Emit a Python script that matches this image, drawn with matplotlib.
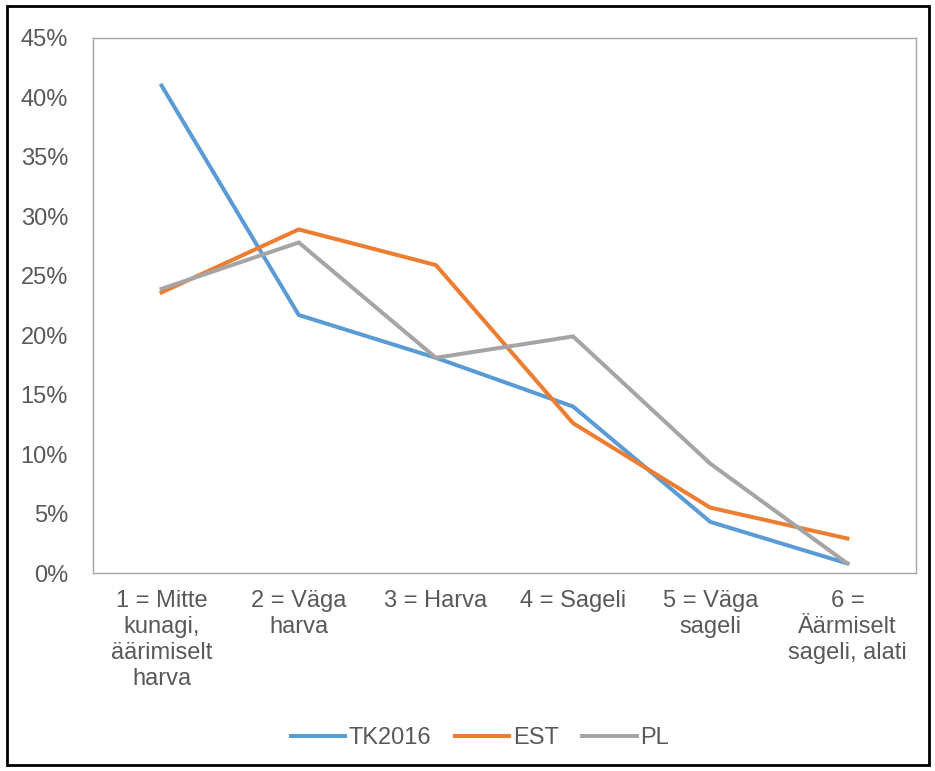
import matplotlib.pyplot as plt
from matplotlib.patches import Rectangle
from matplotlib.ticker import PercentFormatter

plt.rcParams['font.family'] = ['Liberation Sans', 'DejaVu Sans']

categories = [
    "1 = Mitte\nkunagi,\näärimiselt\nharva",
    "2 = Väga\nharva",
    "3 = Harva",
    "4 = Sageli",
    "5 = Väga\nsageli",
    "6 =\nÄärmiselt\nsageli, alati",
]
tk2016 = [41.0, 21.7, 18.1, 14.0, 4.3, 0.8]
est = [23.6, 28.9, 25.9, 12.6, 5.5, 2.9]
pl = [23.9, 27.8, 18.1, 19.9, 9.2, 0.8]
series_names = ["TK2016", "EST", "PL"]
colors = ["#5B9BD5", "#ED7D31", "#A5A5A5"]

fig = plt.figure(figsize=(9.35, 7.71), dpi=100)
ax = fig.add_axes([93 / 935, 1 - 573 / 771, (916 - 93) / 935, (573 - 38) / 771])

x = range(len(categories))
for vals, name, col in zip([tk2016, est, pl], series_names, colors):
    ax.plot(x, vals, color=col, linewidth=2.9, label=name, solid_joinstyle='miter')

ax.set_xlim(-0.5, len(categories) - 0.5)
ax.set_ylim(0, 45)
ax.set_yticks(range(0, 46, 5))
ax.yaxis.set_major_formatter(PercentFormatter(decimals=0))
ax.set_xticks(list(x))
ax.set_xticklabels(categories, linespacing=1.25)
ax.tick_params(axis='both', length=0, labelsize=17, labelcolor='#595959')
ax.tick_params(axis='x', pad=12)
ax.tick_params(axis='y', pad=18)
for s in ax.spines.values():
    s.set_color('#A6A6A6')
    s.set_linewidth(1.0)

fig.legend(loc='center', bbox_to_anchor=(480 / 935, 1 - 738 / 771), ncol=3,
           frameon=False, fontsize=17, handlelength=2.3, handletextpad=0.15,
           columnspacing=1.0, labelcolor='#595959')

# black outer frame
fig.patches.append(Rectangle((7 / 935, 6 / 771), 922 / 935, 759 / 771,
                             transform=fig.transFigure, fill=False,
                             edgecolor='black', linewidth=2))

fig.savefig('out.png', dpi=100)
